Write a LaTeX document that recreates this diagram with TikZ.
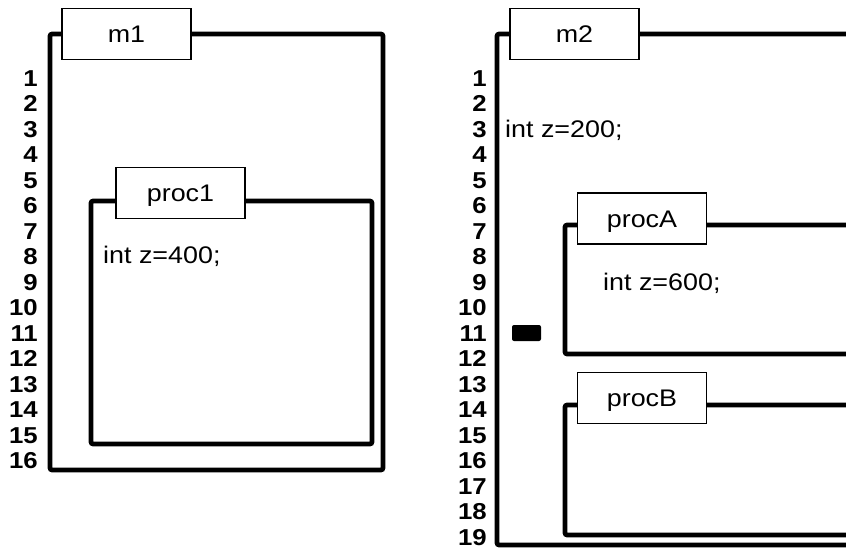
\documentclass[tikz,border=0pt]{standalone}
\usepackage{fontspec}
\setmainfont{Liberation Sans}[FakeStretch=1.12]
\begin{document}
\begin{tikzpicture}[x=1pt,y=-1pt,
  frame/.style={line width=4.6pt, rounded corners=2pt},
  tab/.style={draw, line width=1.8pt, fill=white, minimum width=129pt, minimum height=51pt,
    inner sep=0pt, text height=17pt, text depth=0pt, font=\fontsize{24}{28}\selectfont},
  num/.style={anchor=base east, inner sep=0pt, font=\fontsize{23}{27}\selectfont\bfseries},
  code/.style={anchor=base west, inner sep=0pt, font=\fontsize{24}{28}\selectfont}]
\clip (0,0) rectangle (846,549);
\fill[white] (0,0) rectangle (846,549);
% ---------- left: m1 ----------
\foreach \i in {1,...,16} \node[num] (la\i) at (38,{86+25.5*(\i-1)}) {\i};
\draw[frame] (50,34) rectangle (383,470);
\node[tab] (m1) at (126.5,34) {m1};
\draw[frame] (91,201) rectangle (372,444);
\node[tab] (proc1) at (180.5,193) {proc1};
\node[code] (z400) at (103,263) {int z=400;};
% ---------- right: m2 ----------
\foreach \i in {1,...,19} \node[num] (lb\i) at (487,{86+25.5*(\i-1)}) {\i};
\draw[frame] (497,34) rectangle (870,545);
\node[tab] (m2) at (574.5,34) {m2};
\node[code] (z200) at (505,137) {int z=200;};
\draw[frame] (565,225) rectangle (870,354);
\node[tab] (procA) at (642,218.5) {procA};
\node[code] (z600) at (603,290) {int z=600;};
\fill[rounded corners=2pt] (512,325) rectangle (541,341);
\draw[frame] (565,405) rectangle (870,535);
\node[tab] (procB) at (642,398) {procB};
\end{tikzpicture}
\end{document}
